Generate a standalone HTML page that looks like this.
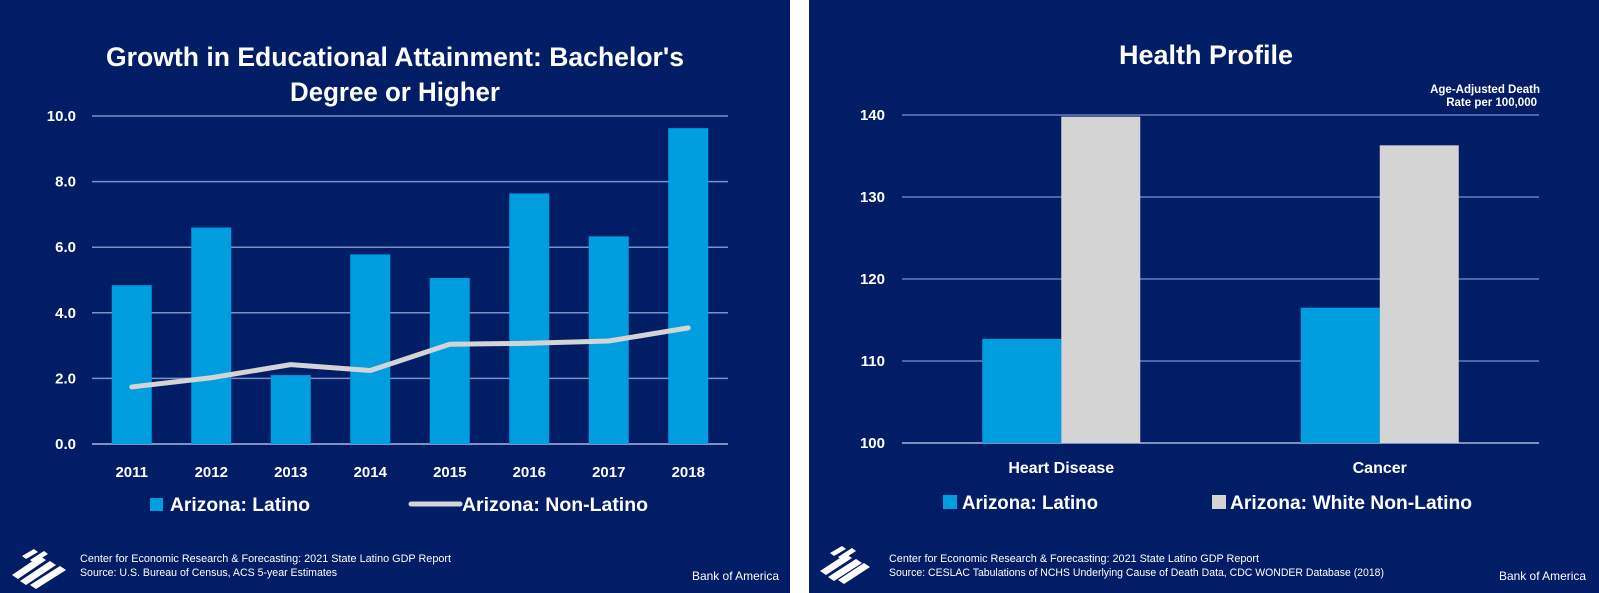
<!DOCTYPE html>
<html><head><meta charset="utf-8"><style>
html,body{margin:0;padding:0;background:#fff;}
svg{display:block;font-family:"Liberation Sans",sans-serif;}
</style></head><body>
<svg id="root" width="1599" height="593" viewBox="0 0 1599 593" xmlns="http://www.w3.org/2000/svg">
<rect x="0" y="0" width="1599" height="593" fill="#ffffff"/>
<rect x="0" y="0" width="790" height="593" fill="#011d66"/>
<rect x="809" y="0" width="790" height="593" fill="#011d66"/>

<g id="left"></g>
<g id="right"></g>

<text x="395" y="66" fill="#fff" font-weight="bold" font-size="27" text-anchor="middle" textLength="578" lengthAdjust="spacingAndGlyphs">Growth in Educational Attainment: Bachelor's</text>
<text x="395" y="101" fill="#fff" font-weight="bold" font-size="27" text-anchor="middle" textLength="210" lengthAdjust="spacingAndGlyphs">Degree or Higher</text>
<text x="1206" y="64" fill="#fff" font-weight="bold" font-size="27" text-anchor="middle" textLength="174" lengthAdjust="spacingAndGlyphs">Health Profile</text>
<text x="1540" y="93" fill="#fff" font-weight="bold" font-size="11.5" text-anchor="end">Age-Adjusted Death</text>
<text x="1537" y="106" fill="#fff" font-weight="bold" font-size="11.5" text-anchor="end">Rate per 100,000</text>

<rect x="150" y="498" width="13" height="13" fill="#009ddf"/>
<text x="170" y="511" fill="#fff" font-weight="bold" font-size="19" textLength="140" lengthAdjust="spacingAndGlyphs">Arizona: Latino</text>
<line x1="411" y1="504" x2="460" y2="504" stroke="#d4d4d4" stroke-width="5" stroke-linecap="round"/>
<text x="462" y="511" fill="#fff" font-weight="bold" font-size="19" textLength="186" lengthAdjust="spacingAndGlyphs">Arizona: Non-Latino</text>

<rect x="943" y="495" width="14" height="14" fill="#009ddf"/>
<text x="962" y="509" fill="#fff" font-weight="bold" font-size="19" textLength="136" lengthAdjust="spacingAndGlyphs">Arizona: Latino</text>
<rect x="1212" y="495" width="14" height="14" fill="#d4d4d4"/>
<text x="1230" y="509" fill="#fff" font-weight="bold" font-size="19" textLength="242" lengthAdjust="spacingAndGlyphs">Arizona: White Non-Latino</text>

<g fill="#fff">
<polygon points="12,575 40,556 46,560 18,579"/><polygon points="20,581 50,561 56,565 26,585"/><polygon points="30,585 60,566 66,570 36,589"/>
<polygon points="22,556 34,549 38,552 26,559"/><polygon points="30,560 44,551 48,554 34,563"/>
</g>
<text x="80" y="562" fill="#fff" font-size="11" textLength="371" lengthAdjust="spacingAndGlyphs">Center for Economic Research &amp; Forecasting: 2021 State Latino GDP Report</text>
<text x="80" y="576" fill="#fff" font-size="11" textLength="257" lengthAdjust="spacingAndGlyphs">Source: U.S. Bureau of Census, ACS 5-year Estimates</text>
<text x="779" y="580" fill="#fff" font-size="12" text-anchor="end" textLength="87" lengthAdjust="spacingAndGlyphs">Bank of America</text>

<g fill="#fff">
<polygon points="820,571 846,554 852,558 826,575"/><polygon points="828,577 856,559 862,563 834,581"/><polygon points="838,580 864,563 870,567 844,584"/>
<polygon points="830,553 842,546 846,549 834,556"/><polygon points="838,557 852,548 856,551 842,560"/>
</g>
<text x="889" y="562" fill="#fff" font-size="11" textLength="370" lengthAdjust="spacingAndGlyphs">Center for Economic Research &amp; Forecasting: 2021 State Latino GDP Report</text>
<text x="889" y="576" fill="#fff" font-size="11" textLength="495" lengthAdjust="spacingAndGlyphs">Source: CESLAC Tabulations of NCHS Underlying Cause of Death Data, CDC WONDER Database (2018)</text>
<text x="1586" y="580" fill="#fff" font-size="12" text-anchor="end" textLength="87" lengthAdjust="spacingAndGlyphs">Bank of America</text>
</svg>
<script>
const NS = "http://www.w3.org/2000/svg";
const years = ["2011","2012","2013","2014","2015","2016","2017","2018"];
const latinoGrowth = [4.84, 6.6, 2.1, 5.78, 5.06, 7.64, 6.33, 9.63];
const nonLatinoGrowth = [1.74, 2.02, 2.42, 2.24, 3.04, 3.07, 3.14, 3.54];
const leftTicks = [0, 2, 4, 6, 8, 10];
const leftTickLabels = ["0.0","2.0","4.0","6.0","8.0","10.0"];
const causes = ["Heart Disease","Cancer"];
const latinoDeath = [112.7, 116.5];
const whiteDeath = [139.8, 136.3];
const rightTicks = [100, 110, 120, 130, 140];

function mk(tag, attrs, parent, text){
  const e = document.createElementNS(NS, tag);
  for (const k in attrs) e.setAttribute(k, attrs[k]);
  if (text !== undefined) e.textContent = text;
  parent.appendChild(e);
  return e;
}
const L = document.getElementById('left');
const lx0 = 92, lx1 = 728, ly0 = 444, lyTop = 116;
const lBand = (lx1 - lx0) / years.length;
const lxc = i => lx0 + lBand * (i + 0.5);
const ly = v => ly0 - (v - 0) / 10 * (ly0 - lyTop);
leftTicks.forEach((t, i) => {
  const g = mk('line', {x1: lx0, x2: lx1, y1: ly(t), y2: ly(t), stroke: t === 0 ? '#a9b6dc' : '#7d8fc8', 'stroke-width': 1.5}, L);
  
  
  const tl = mk('text', {x: 76, y: ly(t) + 5, fill: '#fff', 'font-size': 15, 'font-weight': 'bold', 'text-anchor': 'end'}, L, leftTickLabels[i]);
  
  
});
latinoGrowth.forEach((v, i) => {
  const b = mk('rect', {x: lxc(i) - 20, y: ly(v), width: 40, height: ly(0) - ly(v), fill: '#009ddf'}, L);
  
  
  const t = mk('text', {x: lxc(i), y: 477, fill: '#fff', 'font-size': 15, 'font-weight': 'bold', 'text-anchor': 'middle'}, L, years[i]);
  
  
});
const pts = nonLatinoGrowth.map((v, i) => lxc(i) + ',' + ly(v)).join(' ');
const pl = mk('polyline', {points: pts, fill: 'none', stroke: '#d4d4d4', 'stroke-width': 5, 'stroke-linecap': 'round', 'stroke-linejoin': 'round'}, L);



const R = document.getElementById('right');
const rx0 = 902, rx1 = 1539, ry0 = 443, ryTop = 115;
const rBand = (rx1 - rx0) / causes.length;
const rxc = i => rx0 + rBand * (i + 0.5);
const ry = v => ry0 - (v - 100) / 40 * (ry0 - ryTop);
rightTicks.forEach(t => {
  const g = mk('line', {x1: rx0, x2: rx1, y1: ry(t), y2: ry(t), stroke: t === 100 ? '#a9b6dc' : '#6a7dba', 'stroke-width': 1.5}, R);
  
  
  const tl = mk('text', {x: 885, y: ry(t) + 5, fill: '#fff', 'font-size': 15, 'font-weight': 'bold', 'text-anchor': 'end'}, R, String(t));
  
  
});
causes.forEach((c, i) => {
  const a = mk('rect', {x: rxc(i) - 79, y: ry(latinoDeath[i]), width: 79, height: ry(100) - ry(latinoDeath[i]), fill: '#009ddf'}, R);
  
  
  const b = mk('rect', {x: rxc(i), y: ry(whiteDeath[i]), width: 79, height: ry(100) - ry(whiteDeath[i]), fill: '#d4d4d4'}, R);
  
  
  const t = mk('text', {x: rxc(i), y: 473, fill: '#fff', 'font-size': 16, 'font-weight': 'bold', 'text-anchor': 'middle'}, R, c);
  
  
});
</script>
</body></html>
